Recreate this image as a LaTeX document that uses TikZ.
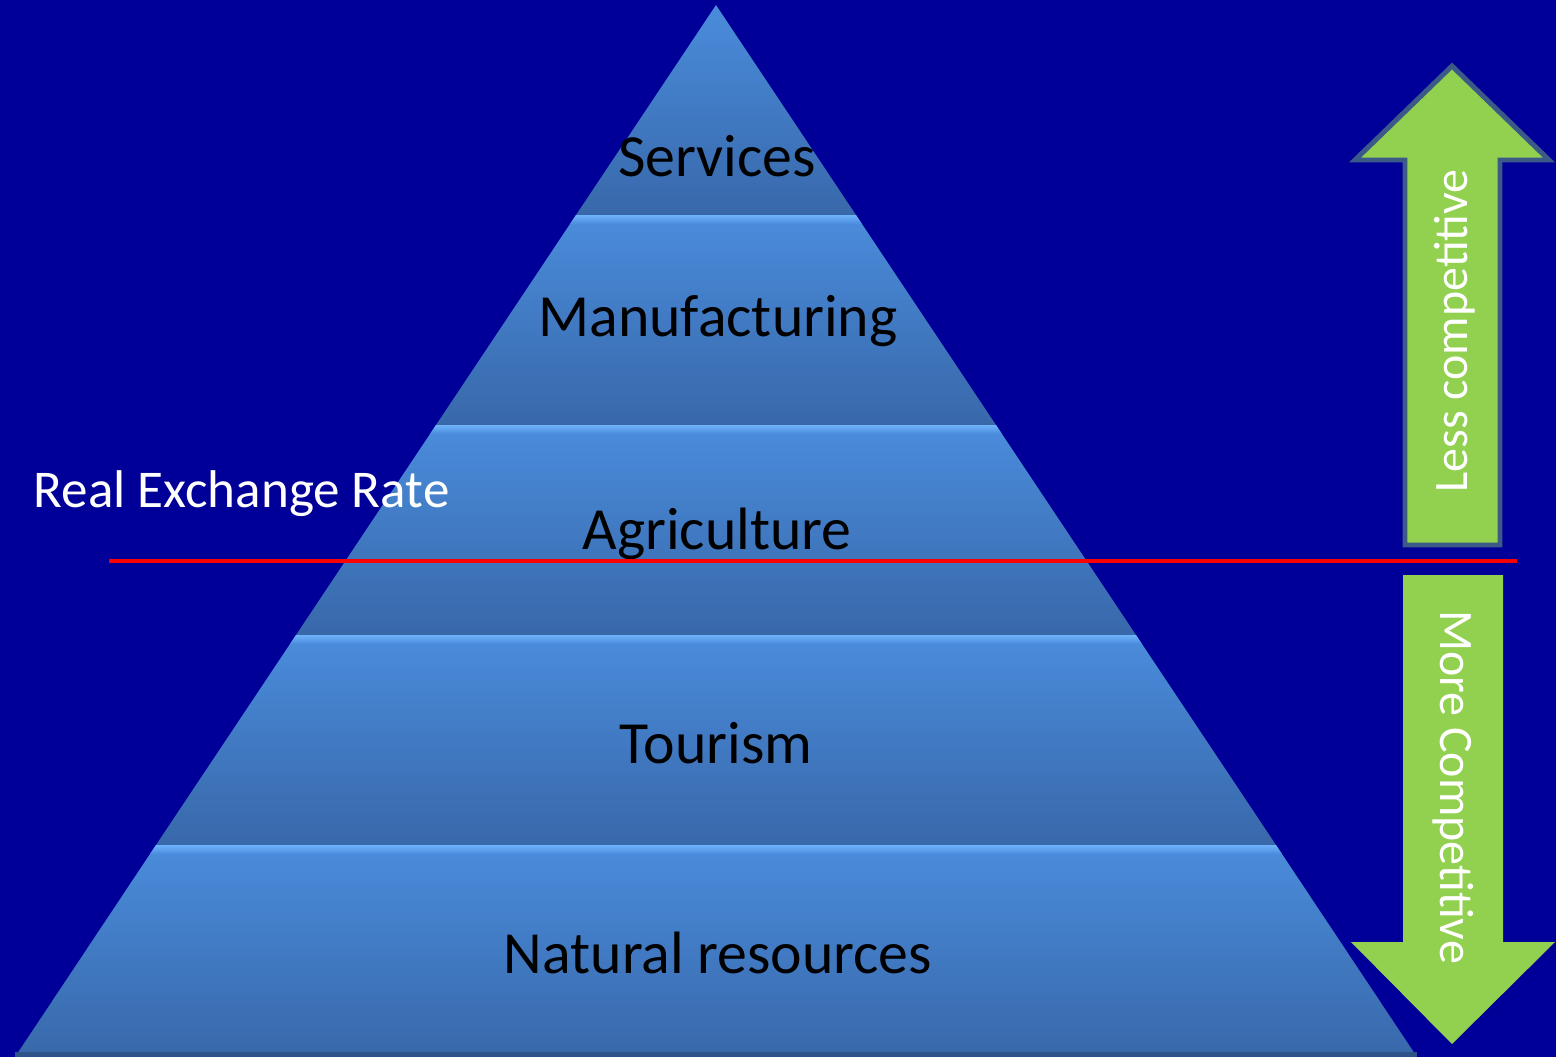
\documentclass[tikz,border=0pt]{standalone}
\usepackage{fontspec}
\setmainfont{Carlito}
\definecolor{bg}{RGB}{0,0,153}
\definecolor{bandtop}{RGB}{74,140,220}
\definecolor{bandbot}{RGB}{56,104,170}
\definecolor{hilite}{RGB}{110,178,250}
\definecolor{arrowgreen}{RGB}{146,208,80}
\definecolor{arrowedge}{RGB}{60,90,135}
\definecolor{redline}{RGB}{250,0,0}
\tikzset{
  px/.style={x=0.01cm,y=-0.01cm},
  bandlabel/.style={font=\fontsize{17}{19}\selectfont,text=black,inner sep=0pt},
  sidelabel/.style={font=\fontsize{15.1}{17}\selectfont,text=white,inner sep=0pt},
  arrowlabel/.style={font=\fontsize{13.65}{15}\selectfont,text=white,inner sep=0pt},
}
\begin{document}
\begin{tikzpicture}[px]
\fill[bg] (0,0) rectangle (1556,1057);
\useasboundingbox (0,0) rectangle (1556,1057);
% bands
\shade[top color=bandtop,bottom color=bandbot] (716,5) -- (856,215) -- (576,215) -- cycle;
\shade[top color=bandtop,bottom color=bandbot] (576,215) -- (856,215) -- (996,425) -- (436,425) -- cycle;
\shade[top color=bandtop,bottom color=bandbot] (436,425) -- (996,425) -- (1136,635) -- (296,635) -- cycle;
\shade[top color=bandtop,bottom color=bandbot] (296,635) -- (1136,635) -- (1276,845) -- (156,845) -- cycle;
\shade[top color=bandtop,bottom color=bandbot] (156,845) -- (1276,845) -- (1417,1057) -- (15,1057) -- cycle;
% highlights
\foreach \ya/\xl/\xr in {215/576/856, 425/436/996, 635/296/1136, 845/156/1276}{
  \shade[top color=hilite,bottom color=bandtop] (\xl,\ya) -- (\xr,\ya) -- ({\xr+6},{\ya+9}) -- ({\xl-6},{\ya+9}) -- cycle;
}
\fill[bandbot!80!black] (15,1052) rectangle (1417,1057);
% labels
\node[bandlabel] (services) at (717,156) {Services};
\node[bandlabel] (manuf) at (718,321) {Manufacturing};
\node[bandlabel] (agri) at (717,534) {Agriculture};
\node[bandlabel] (tour) at (716,743) {Tourism};
\node[bandlabel] (nat) at (718,953) {Natural resources};
% red line
\coordinate (rl) at (109,561);
\coordinate (rr) at (1517,561);
\draw[redline,line width=1.4pt] (rl) -- (rr);
\node[sidelabel,anchor=west] (rer) at (33,494) {Real Exchange Rate};
% arrows
\draw[fill=arrowgreen,draw=arrowedge,line width=1.4pt,line join=miter]
  (1452,66) -- (1549,160) -- (1500,160) -- (1500,545) -- (1405,545) -- (1405,160) -- (1355,160) -- cycle;
\fill[arrowgreen] (1403,575) -- (1503,575) -- (1503,942) -- (1555,942) -- (1452,1044) -- (1351,942) -- (1403,942) -- cycle;
\node[arrowlabel,rotate=90] (less) at (1455,331) {Less competitive};
\node[arrowlabel,rotate=-90] (more) at (1453,787) {More Competitive};
\end{tikzpicture}
\end{document}
